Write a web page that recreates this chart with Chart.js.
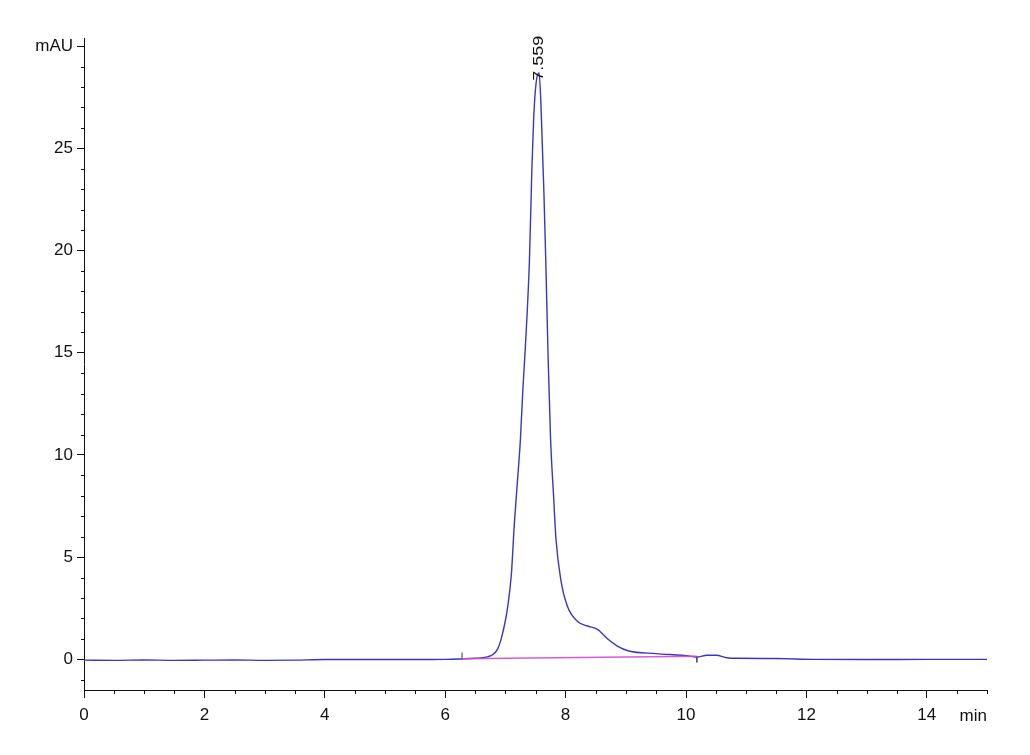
<!DOCTYPE html>
<html>
<head>
<meta charset="utf-8">
<script src="https://cdn.jsdelivr.net/npm/chart.js@4.4.1/dist/chart.umd.min.js"></script>
<style>
  html, body { margin: 0; padding: 0; background: #fff; }
  #wrap { width: 1030px; height: 755px; }
</style>
</head>
<body>
<div id="wrap"><canvas id="chromChart" width="1030" height="755"></canvas></div>
<script>
// retention time (min) and signal (mAU)
const times = [0, 0.5, 1.0, 1.5, 2.0, 2.5, 3.0, 3.5, 4.0, 4.5, 5.0, 5.5, 6.0, 6.25, 6.5, 6.7,
  6.8, 6.87, 6.93, 7.0, 7.04, 7.1, 7.15, 7.21, 7.25, 7.29, 7.33, 7.4, 7.44, 7.47, 7.51, 7.559,
  7.59, 7.64, 7.67, 7.71, 7.75, 7.8, 7.84, 7.92, 8.03, 8.2, 8.36, 8.53, 8.69, 8.86, 9.05, 9.5,
  10.07, 10.18, 10.35, 10.5, 10.68, 10.84, 11.5, 12.1, 13, 14, 15];
const signal = [-0.04, -0.05, -0.03, -0.05, -0.04, -0.03, -0.05, -0.04, -0.01, -0.01, -0.01, -0.01, 0.0, 0.02, 0.05, 0.12,
  0.25, 0.5, 1.0, 1.9, 2.6, 4.2, 6.7, 9.1, 10.8, 13.2, 15.2, 19.6, 24.0, 26.5, 28.2, 28.7,
  27.2, 22.8, 19.6, 14.7, 10.8, 8.0, 5.9, 3.9, 2.6, 1.85, 1.63, 1.47, 1.02, 0.65, 0.41, 0.28,
  0.16, 0.11, 0.2, 0.2, 0.08, 0.05, 0.04, 0.0, -0.01, 0.0, 0.0];

// integration baseline (start / end of the peak)
const baseTimes = [6.28, 10.18];
const baseValues = [0.03, 0.15];

const peakTime = 7.559;
const peakHeight = 28.7;
const peakLabel = "7.559";

const xTicks = [0, 2, 4, 6, 8, 10, 12, 14];
const yTicks = [0, 5, 10, 15, 20, 25, 30];
const xMinorStep = 0.5;
const yMinorStep = 1;

const FONT = "'Liberation Sans', Arial, sans-serif";
Chart.defaults.font.family = FONT;
Chart.defaults.font.size = 17;
Chart.defaults.color = "#111";

const trace = times.map((t, i) => ({ x: t, y: signal[i] }));
const baseline = baseTimes.map((t, i) => ({ x: t, y: baseValues[i] }));
// little integration markers: one above the baseline at start, one below at end
const startMark = [{ x: baseTimes[0], y: baseValues[0] }, { x: baseTimes[0], y: baseValues[0] + 0.3 }];
const endMark = [{ x: baseTimes[1], y: baseValues[1] }, { x: baseTimes[1], y: baseValues[1] - 0.3 }];

// minor ticks, peak label and the "min" unit
const extrasPlugin = {
  id: "extras",
  afterDraw(chart) {
    const ctx = chart.ctx;
    const xs = chart.scales.x;
    const ys = chart.scales.y;
    const area = chart.chartArea;
    ctx.save();
    ctx.strokeStyle = "#111";
    ctx.lineWidth = 1;
    ctx.beginPath();
    for (let v = 0; v <= xs.max + 1e-9; v += xMinorStep) {
      if (xTicks.includes(Math.round(v * 100) / 100)) continue;
      const px = Math.round(xs.getPixelForValue(v)) + 0.5;
      ctx.moveTo(px, area.bottom);
      ctx.lineTo(px, area.bottom + 4);
    }
    for (let v = Math.ceil(ys.min); v <= ys.max; v += yMinorStep) {
      if (yTicks.includes(v)) continue;
      const py = Math.round(ys.getPixelForValue(v)) + 0.5;
      ctx.moveTo(area.left, py);
      ctx.lineTo(area.left - 3, py);
    }
    ctx.stroke();

    // peak retention time, written upward above the apex
    const px = xs.getPixelForValue(peakTime);
    const py = ys.getPixelForValue(peakHeight) + 8;
    ctx.translate(px, py);
    ctx.rotate(-Math.PI / 2);
    ctx.scale(1, 0.8);
    ctx.font = "18px " + FONT;
    ctx.fillStyle = "#111";
    ctx.textAlign = "left";
    ctx.textBaseline = "middle";
    ctx.fillText(peakLabel, 0, 0);
    ctx.restore();

    ctx.save();
    ctx.font = "17px " + FONT;
    ctx.fillStyle = "#111";
    ctx.textAlign = "right";
    ctx.textBaseline = "middle";
    ctx.fillText("min", area.right, area.bottom + 26);
    ctx.restore();
  }
};

function initChart() {
  const ctx = document.getElementById("chromChart").getContext("2d");
  return new Chart(ctx, {
    type: "scatter",
    data: {
      datasets: [
        {
          data: baseline,
          showLine: true,
          borderColor: "rgba(215, 70, 215, 0.9)",
          borderWidth: 1.6,
          pointRadius: 0,
        },
        {
          data: trace,
          showLine: true,
          borderColor: "rgb(55, 55, 195)",
          borderWidth: 1.4,
          pointRadius: 0,
          cubicInterpolationMode: "monotone",
        },
        {
          data: startMark,
          showLine: true,
          borderColor: "#333",
          borderWidth: 1,
          pointRadius: 0,
        },
        {
          data: endMark,
          showLine: true,
          borderColor: "#555",
          borderWidth: 1,
          pointRadius: 0,
        },
      ],
    },
    options: {
      responsive: false,
      animation: false,
      layout: { padding: { left: 0, top: 38, right: 43, bottom: 0 } },
      plugins: {
        legend: { display: false },
        tooltip: { enabled: false },
      },
      scales: {
        x: {
          type: "linear",
          min: 0,
          max: 15,
          afterBuildTicks: (scale) => {
            scale.ticks = xTicks.map((v) => ({ value: v }));
          },
          afterFit: (scale) => {
            scale.height = 65;
          },
          ticks: { padding: 7, maxRotation: 0, autoSkip: false },
          grid: { drawOnChartArea: false, tickLength: 8, color: "#111" },
          border: { display: true, color: "#111", width: 1 },
        },
        y: {
          type: "linear",
          min: -1.5,
          max: 30.4,
          afterBuildTicks: (scale) => {
            scale.ticks = yTicks.map((v) => ({ value: v }));
          },
          afterFit: (scale) => {
            scale.width = 84;
          },
          ticks: {
            padding: 4,
            autoSkip: false,
            callback: (v) => (v === 30 ? "mAU" : v),
          },
          grid: { drawOnChartArea: false, tickLength: 7, color: "#111" },
          border: { display: true, color: "#111", width: 1 },
        },
      },
    },
    plugins: [extrasPlugin],
  });
}

document.addEventListener("DOMContentLoaded", () => {
  initChart();
});
</script>
</body>
</html>
